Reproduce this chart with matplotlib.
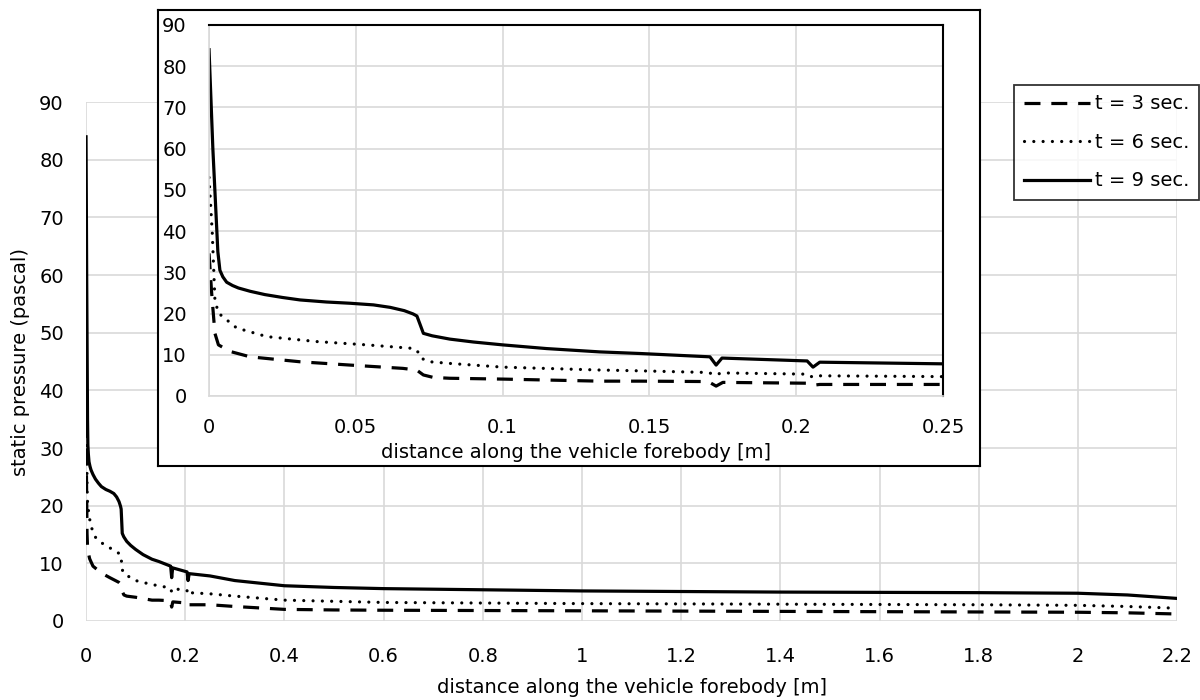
import matplotlib
matplotlib.use('Agg')
import matplotlib.pyplot as plt

plt.rcParams['font.family'] = ['DejaVu Sans']

# t = 3 sec. (dashed)
x_t3 = [0, 0.0009, 0.002, 0.0032, 0.0072, 0.014, 0.031, 0.048, 0.066, 0.0707,
        0.073, 0.0764, 0.082, 0.1, 0.133, 0.147, 0.17, 0.1727, 0.175, 0.2035,
        0.2057, 0.208, 0.25, 0.3, 0.4, 0.5, 0.6, 0.8, 1.0, 1.2, 1.4, 1.6, 1.8,
        2.0, 2.1, 2.2]
p_t3 = [34.6, 24.9, 15.2, 12.4, 10.8, 9.5, 8.3, 7.5, 6.7, 6.3,
        5.1, 4.5, 4.3, 4.1, 3.6, 3.6, 3.5, 2.4, 3.3, 3.1,
        2.6, 2.8, 2.8, 2.5, 2.0, 1.9, 1.85, 1.8, 1.75, 1.7, 1.65, 1.6, 1.55,
        1.5, 1.4, 1.2]

# t = 6 sec. (dotted)
x_t6 = [0, 0.0011, 0.002, 0.0032, 0.0094, 0.0197, 0.0367, 0.0537, 0.0685, 0.0707,
        0.0724, 0.0753, 0.082, 0.1, 0.133, 0.147, 0.17, 0.1725, 0.1745, 0.2035,
        0.2055, 0.2075, 0.25, 0.3, 0.4, 0.5, 0.6, 0.8, 1.0, 1.2, 1.4, 1.6, 1.8,
        2.0, 2.1, 2.2]
p_t6 = [53, 39.5, 23.3, 20.1, 16.5, 14.4, 13.2, 12.4, 11.6, 11.2,
        9.1, 8.3, 7.9, 7.0, 6.3, 6.1, 5.7, 5.1, 5.6, 5.3,
        4.6, 4.9, 4.7, 4.3, 3.6, 3.4, 3.2, 3.1, 3.0, 2.95, 2.9, 2.85, 2.8,
        2.7, 2.5, 2.2]

# t = 9 sec. (solid)
x_t9 = [0, 0.0013, 0.003, 0.0037, 0.0047, 0.006, 0.008, 0.01, 0.014, 0.019,
        0.025, 0.031, 0.04, 0.048, 0.056, 0.0617, 0.0665, 0.0695, 0.0708, 0.0718,
        0.073, 0.076, 0.082, 0.09, 0.1, 0.115, 0.133, 0.147, 0.1706,
        0.1727, 0.1747, 0.2037, 0.2057, 0.208, 0.25, 0.3, 0.4, 0.5, 0.6, 0.8,
        1.0, 1.2, 1.4, 1.6, 1.8, 2.0, 2.1, 2.2]
p_t9 = [84, 60, 35, 30.5, 28.9, 27.6, 26.8, 26.2, 25.4, 24.6,
        23.9, 23.3, 22.8, 22.5, 22.1, 21.5, 20.7, 19.9, 19.4, 17.5,
        15.2, 14.6, 13.8, 13.1, 12.4, 11.5, 10.7, 10.3, 9.5,
        7.5, 9.2, 8.5, 7.0, 8.2, 7.8, 7.0, 6.1, 5.8, 5.6, 5.4,
        5.2, 5.1, 5.0, 4.95, 4.9, 4.8, 4.5, 3.9]

main_xticks = [0, 0.2, 0.4, 0.6, 0.8, 1.0, 1.2, 1.4, 1.6, 1.8, 2.0, 2.2]
inset_xticks = [0, 0.05, 0.1, 0.15, 0.2, 0.25]
yticks = [0, 10, 20, 30, 40, 50, 60, 70, 80, 90]

GRID = '#d9d9d9'
FS = 14


def draw_series(ax):
    ax.plot(x_t3, p_t3, color='black', lw=2.3, dashes=(5.0, 3.4),
            dash_capstyle='butt', label='t = 3 sec.')
    ax.plot(x_t6, p_t6, color='black', lw=2.3, dashes=(0.01, 2.9),
            dash_capstyle='round', label='t = 6 sec.')
    ax.plot(x_t9, p_t9, color='black', lw=2.3, label='t = 9 sec.')


def style_axes(ax, xticks, xlim, xpad):
    ax.set_xlim(*xlim)
    ax.set_ylim(0, 90)
    ax.set_xticks(xticks)
    ax.set_xticklabels([f'{v:g}' for v in xticks])
    ax.set_yticks(yticks)
    ax.grid(True, color=GRID, lw=1.2)
    ax.set_axisbelow(True)
    ax.tick_params(length=0, labelsize=FS)
    ax.tick_params(axis='x', pad=xpad)
    ax.tick_params(axis='y', pad=16)


fig = plt.figure(figsize=(12, 7), dpi=100)

# main chart
ax = fig.add_axes([0.0717, 0.113, 0.9092, 0.741])
draw_series(ax)
style_axes(ax, main_xticks, (0, 2.2), 19)
for s in ax.spines.values():
    s.set_visible(False)
ax.set_xlabel('distance along the vehicle forebody [m]', fontsize=FS)
ax.xaxis.label.set_va('center')
ax.xaxis.set_label_coords(0.5, -0.129)
ax.set_ylabel('static pressure (pascal)', fontsize=FS)
ax.yaxis.label.set_va('center')
ax.yaxis.set_label_coords(-0.0605, 0.5)

# white frame behind the inset
frame = fig.add_axes([0.1317, 0.3343, 0.685, 0.6514])
frame.set_xticks([])
frame.set_yticks([])
for s in frame.spines.values():
    s.set_color('black')
    s.set_linewidth(1.5)

# inset chart
axi = fig.add_axes([0.1742, 0.4343, 0.6117, 0.53])
draw_series(axi)
style_axes(axi, inset_xticks, (0, 0.25), 16)
axi.spines['left'].set_color(GRID)
axi.spines['bottom'].set_color(GRID)
axi.spines['left'].set_linewidth(1.2)
axi.spines['bottom'].set_linewidth(1.2)
axi.spines['top'].set_color('black')
axi.spines['right'].set_color('black')
axi.spines['top'].set_linewidth(1.5)
axi.spines['right'].set_linewidth(1.5)
axi.set_xlabel('distance along the vehicle forebody [m]', fontsize=FS)
axi.xaxis.label.set_va('center')
axi.xaxis.set_label_coords(0.5, -0.153)

handles, labels = ax.get_legend_handles_labels()
leg = fig.legend(handles, labels, loc='upper right', bbox_to_anchor=(0.999, 0.879),
                 fontsize=FS, frameon=True, fancybox=False, handlelength=3.4,
                 handletextpad=0.25, labelspacing=1.0, borderpad=0.5,
                 borderaxespad=0.0)
leg.get_frame().set_edgecolor('black')
leg.get_frame().set_linewidth(1.3)

plt.savefig('out.png', dpi=100)
